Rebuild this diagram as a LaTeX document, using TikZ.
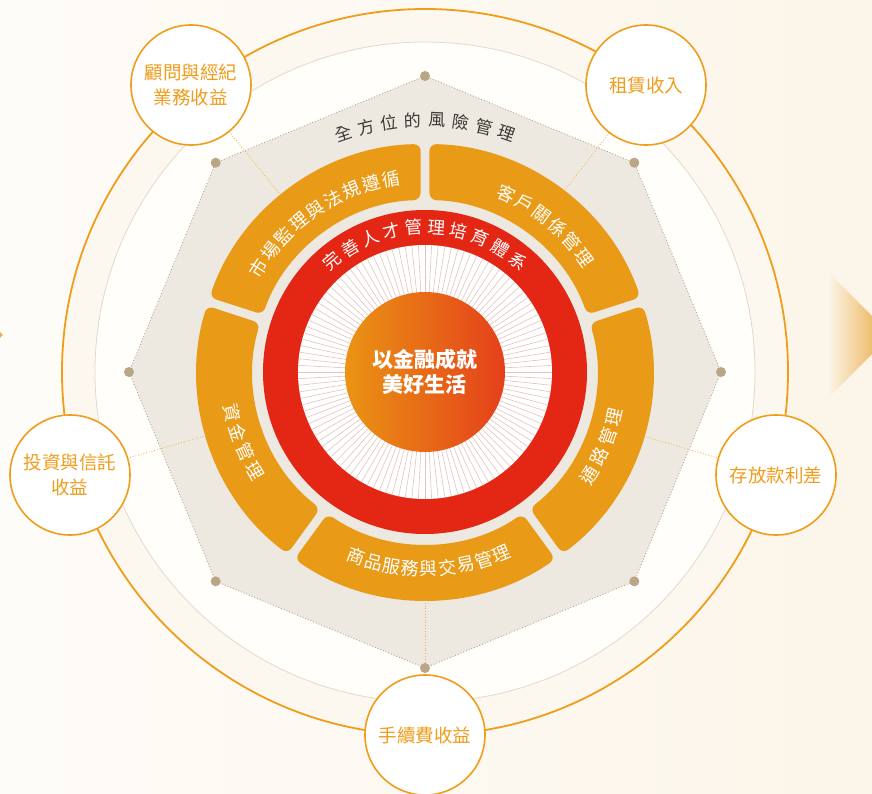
\documentclass[tikz,border=0pt]{standalone}
\usepackage{fontspec}
\setmainfont{Noto Sans CJK TC}
\usetikzlibrary{calc}

\definecolor{bgleft}{HTML}{FEFCF8}
\definecolor{bgright}{HTML}{FCF5E9}
\definecolor{bandfill}{HTML}{FDF8EF}
\definecolor{innerfill}{HTML}{FFFEFB}
\definecolor{thinring}{HTML}{E3D9C8}
\definecolor{ringorange}{HTML}{EF9D1B}
\definecolor{octfill}{HTML}{EDE9E1}
\definecolor{octline}{HTML}{B4A487}
\definecolor{dotcol}{HTML}{B9A687}
\definecolor{segorange}{HTML}{E99A16}
\definecolor{ringred}{HTML}{E42614}
\definecolor{spoke}{HTML}{E2C4BC}
\definecolor{coreleft}{HTML}{EA9414}
\definecolor{coreright}{HTML}{E5401A}
\definecolor{riskgray}{HTML}{3B3734}
\definecolor{chevron}{HTML}{E9A63A}

% letters along an arc: name, radius, first angle, step, style, letters
\newcommand{\cwtext}[6]{%
  \foreach \ch [count=\i] in {#6}{%
    \pgfmathsetmacro{\ang}{#3-(\i-1)*#4}
    \node[#5,rotate=\ang-90] (#1\i) at (\ang:#2) {\ch};}}
\newcommand{\ccwtext}[6]{%
  \foreach \ch [count=\i] in {#6}{%
    \pgfmathsetmacro{\ang}{#3+(\i-1)*#4}
    \node[#5,rotate=\ang+90] (#1\i) at (\ang:#2) {\ch};}}

\begin{document}
\begin{tikzpicture}[x=1pt,y=1pt,
  seg/.style={fill=segorange,rounded corners=7pt},
  segtext/.style={text=white,inner sep=0pt,font=\fontsize{18}{18}\selectfont},
  redtext/.style={text=white,inner sep=0pt,font=\fontsize{17.5}{18}\selectfont},
  risktext/.style={text=riskgray,inner sep=0pt,font=\fontsize{17}{17}\selectfont},
  earn/.style={circle,draw=ringorange,line width=1.6pt,fill=white,minimum size=120pt,
    inner sep=0pt,align=center,text=ringorange,font=\fontsize{18.5}{25}\selectfont},
  link/.style={draw=ringorange!85,dotted,line width=0.8pt},
  vdot/.style={circle,fill=dotcol,inner sep=0pt,minimum size=10pt}]

  \useasboundingbox (-425,-421) rectangle (447,372);
  \shade[left color=bgleft,right color=bgright] (-425,-421) rectangle (447,372);

  % arrows of the neighbouring pages
  \shade[left color=bgright,right color=chevron] (403,100) -- (466,37) -- (403,-26) -- cycle;
  \fill[chevron!90] (-445,60) -- (-422,37) -- (-445,14) -- cycle;

  % outer rings
  \coordinate (o) at (0,0);
  \fill[bandfill] (o) circle (363);
  \fill[innerfill] (o) circle (330);
  \draw[thinring,line width=0.8pt] (o) circle (330);
  \draw[ringorange,line width=1.8pt] (o) circle (363);

  % octagon
  \foreach \k in {0,...,7}
    \coordinate (v\k) at (\k*45:296);
  \fill[octfill] (v0) -- (v1) -- (v2) -- (v3) -- (v4) -- (v5) -- (v6) -- (v7) -- cycle;
  \draw[octline,dotted,line width=0.9pt] (v0) -- (v1) -- (v2) -- (v3) -- (v4) -- (v5) -- (v6) -- (v7) -- cycle;
  \foreach \k in {0,...,7}
    \node[vdot] (d\k) at (v\k) {};

  % five management segments
  \foreach \a/\b in {18/90,90/162,162/234,234/306,306/378}
    \fill[seg] (\a+1.5:172) arc[start angle=\a+1.5,end angle=\b-1.5,radius=172]
      -- (\b-1.1:228) arc[start angle=\b-1.1,end angle=\a+1.1,radius=228] -- cycle;

  % red ring, spokes and core
  \fill[ringred] (o) circle (162);
  \fill[white] (o) circle (127);
  \foreach \t in {0,3,...,357}
    \draw[spoke,line width=0.6pt] (\t:80) -- (\t:127);
  \shade[left color=coreleft,right color=coreright] (o) circle (80);
  \node[text=white,align=center,font=\bfseries\fontsize{21}{25}\selectfont] (core) at (0,0) {以金融成就\\美好生活};

  % texts along the arcs
  \cwtext{risk}{252}{109}{5.43}{risktext}{全,方,位,的,風,險,管,理}
  \cwtext{talent}{145}{130}{8.9}{redtext}{完,善,人,才,管,理,培,育,體,系}
  \cwtext{market}{196}{148}{6}{segtext}{市,場,監,理,與,法,規,遵,循}
  \cwtext{client}{196}{65.5}{6}{segtext}{客,戶,關,係,管,理}
  \ccwtext{fund}{197}{192}{6}{segtext}{資,金,管,理}
  \ccwtext{goods}{197}{249.5}{5.4}{segtext}{商,品,服,務,與,交,易,管,理}
  \ccwtext{channel}{194}{-32}{6.2}{segtext}{通,路,管,理}

  % revenue circles
  \node[earn] (advice) at (-234,287) {顧問與經紀\\業務收益};
  \node[earn] (lease) at (221,287) {租賃收入};
  \node[earn] (spread) at (351,-103) {存放款利差};
  \node[earn] (invest) at (-355,-103) {投資與信託\\收益};
  \node[earn] (fee) at (0,-363) {手續費收益};

  \draw[link] ($(o)!228pt!(advice)$) -- (advice);
  \draw[link] ($(o)!228pt!(lease)$) -- (lease);
  \draw[link] ($(o)!228pt!(spread)$) -- (spread);
  \draw[link] ($(o)!228pt!(invest)$) -- (invest);
  \draw[link] ($(o)!228pt!(fee)$) -- (d6);
\end{tikzpicture}
\end{document}
